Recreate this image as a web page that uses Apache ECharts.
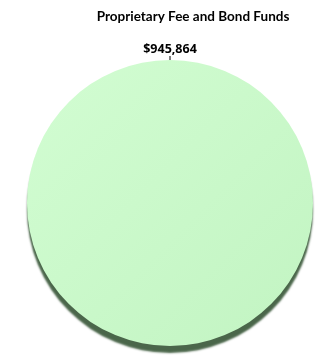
<!DOCTYPE html>
<html><head><meta charset="utf-8">
<script src="https://cdn.jsdelivr.net/npm/echarts@6/dist/echarts.min.js"></script>
<style>html,body{margin:0;padding:0;background:#fff}#c{width:322px;height:358px}</style>
</head><body><div id="c"></div>
<script>
const categories = ["Proprietary Fee and Bond Funds"];
const values = [945864];
const labels = ["$945,864"];
const chart = echarts.init(document.getElementById('c'), null, {renderer:'canvas'});
chart.setOption({
  animation:false,
  title:{text:'Proprietary Fee and Bond Funds', left:188, top:5, textAlign:'center',
    textStyle:{fontFamily:'Lato', fontWeight:'bold', fontSize:13.5, color:'#000'}},
  series:[{
    type:'pie', center:[170,203], radius:[0,143], startAngle:270, clockwise:true,
    data: categories.map((c,i)=>({name:c, value:values[i]})),
    itemStyle:{
      color:new echarts.graphic.LinearGradient(0,0,1,1,[{offset:0,color:'#d2fdd2'},{offset:1,color:'#c2f4c2'}]),
      shadowColor:'#4a664a', shadowOffsetY:7, shadowOffsetX:0, shadowBlur:2
    },
    label:{show:true, position:'outside', formatter:function(p){return labels[p.dataIndex];},
      fontFamily:'Open Sans', fontWeight:'bold', fontSize:12.5, color:'#000', textBorderWidth:0},
    labelLine:{show:true, length:4, length2:0, lineStyle:{color:'#000', width:1}},
    labelLayout:function(p){ return {x:p.labelLinePoints[2][0], y:p.labelLinePoints[2][1], align:'center', verticalAlign:'bottom'}; },
    emphasis:{disabled:true}
  }]
});
</script></body></html>
